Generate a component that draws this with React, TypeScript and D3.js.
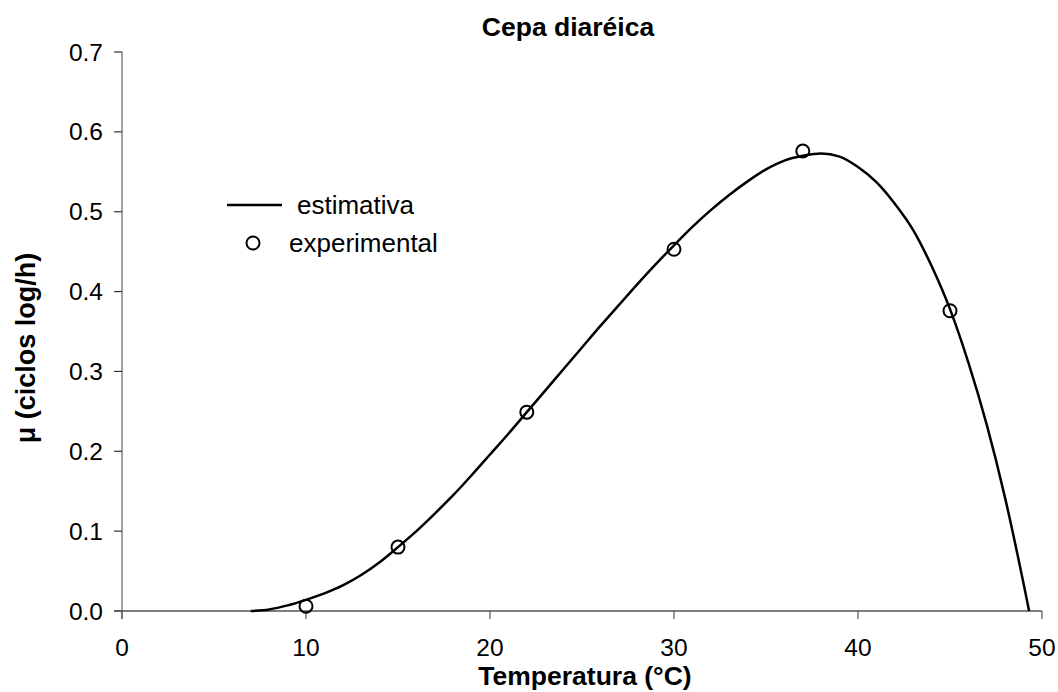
import React, { useEffect, useRef } from "react";
import * as d3 from "d3";

// estimated curve (°C, ciclos log/h)
const curveT = [7, 8, 9, 10, 11, 12, 13, 14, 15, 16, 17, 18, 19, 20, 21, 22, 23, 24, 25, 26, 27, 28, 29, 30, 31, 32, 33, 34, 35, 36, 37, 38, 39, 40, 41, 42, 43, 44, 45, 46, 47, 48, 49, 49.3];
const curveMu = [0, 0.002, 0.007, 0.014, 0.022, 0.032, 0.045, 0.061, 0.08, 0.1, 0.122, 0.145, 0.17, 0.196, 0.222, 0.249, 0.276, 0.303, 0.33, 0.357, 0.383, 0.409, 0.434, 0.458, 0.481, 0.502, 0.521, 0.538, 0.553, 0.564, 0.57, 0.573, 0.569, 0.556, 0.537, 0.51, 0.477, 0.432, 0.378, 0.311, 0.233, 0.141, 0.034, 0];

// experimental points
const expT = [10, 15, 22, 30, 37, 45];
const expMu = [0.006, 0.08, 0.249, 0.453, 0.576, 0.376];

const xTicks = [0, 10, 20, 30, 40, 50];
const yTicks = [0, 0.1, 0.2, 0.3, 0.4, 0.5, 0.6, 0.7];

const App = () => {
  const svgRef = useRef<SVGSVGElement>(null);

  useEffect(() => {
    const svg = d3.select(svgRef.current);
    svg.selectAll("*").remove();

    const font = "'Liberation Sans', Arial, sans-serif";
    const x = d3.scaleLinear().domain([0, 50]).range([122, 1042]);
    const y = d3.scaleLinear().domain([0, 0.7]).range([611, 52]);

    // y axis
    svg.append("line")
      .attr("x1", x(0)).attr("x2", x(0))
      .attr("y1", y(0.7)).attr("y2", y(0) + 8)
      .attr("stroke", "#808080").attr("stroke-width", 1.5);
    svg.append("g").selectAll("line").data(yTicks).join("line")
      .attr("x1", x(0) - 8).attr("x2", x(0))
      .attr("y1", (d) => y(d)).attr("y2", (d) => y(d))
      .attr("stroke", "#333").attr("stroke-width", 1.2);
    svg.append("g").selectAll("text").data(yTicks).join("text")
      .attr("x", 103).attr("y", (d) => y(d) + 8.5)
      .attr("text-anchor", "end")
      .attr("font-family", font).attr("font-size", 24.5)
      .text((d) => d3.format(".1f")(d));

    // x axis
    svg.append("line")
      .attr("x1", x(0) - 8).attr("x2", x(50))
      .attr("y1", y(0)).attr("y2", y(0))
      .attr("stroke", "#555").attr("stroke-width", 1.5);
    svg.append("g").selectAll("line").data(xTicks).join("line")
      .attr("x1", (d) => x(d)).attr("x2", (d) => x(d))
      .attr("y1", y(0)).attr("y2", y(0) + 8)
      .attr("stroke", "#555").attr("stroke-width", 1.2);
    svg.append("g").selectAll("text").data(xTicks).join("text")
      .attr("x", (d) => x(d)).attr("y", 656)
      .attr("text-anchor", "middle")
      .attr("font-family", font).attr("font-size", 24.5)
      .text((d) => d);

    // curve
    const line = d3.line<number>()
      .x((d) => x(d))
      .y((d, i) => y(curveMu[i]))
      .curve(d3.curveMonotoneX);
    svg.append("path")
      .attr("d", line(curveT))
      .attr("fill", "none")
      .attr("stroke", "#000")
      .attr("stroke-width", 2.5);

    // points
    svg.append("g").selectAll("circle").data(expT).join("circle")
      .attr("cx", (d) => x(d)).attr("cy", (d, i) => y(expMu[i]))
      .attr("r", 6.5)
      .attr("fill", "none").attr("stroke", "#000").attr("stroke-width", 2);

    // titles
    svg.append("text")
      .attr("x", 568).attr("y", 36)
      .attr("text-anchor", "middle")
      .attr("font-family", font).attr("font-size", 26.5).attr("font-weight", "bold")
      .text("Cepa diaréica");
    svg.append("text")
      .attr("x", 585).attr("y", 685)
      .attr("text-anchor", "middle")
      .attr("font-family", font).attr("font-size", 26.5).attr("font-weight", "bold")
      .text("Temperatura (°C)");
    svg.append("text")
      .attr("transform", "translate(35,348) rotate(-90)")
      .attr("text-anchor", "middle")
      .attr("font-family", font).attr("font-size", 27).attr("font-weight", "bold")
      .text("μ (ciclos log/h)");

    // legend
    svg.append("line")
      .attr("x1", 227).attr("x2", 282).attr("y1", 205).attr("y2", 205)
      .attr("stroke", "#000").attr("stroke-width", 2.5);
    svg.append("text")
      .attr("x", 297).attr("y", 214)
      .attr("font-family", font).attr("font-size", 26)
      .text("estimativa");
    svg.append("circle")
      .attr("cx", 253).attr("cy", 243).attr("r", 6.5)
      .attr("fill", "none").attr("stroke", "#000").attr("stroke-width", 2);
    svg.append("text")
      .attr("x", 289).attr("y", 252)
      .attr("font-family", font).attr("font-size", 26)
      .text("experimental");
  }, []);

  return (
    <svg
      ref={svgRef}
      width={1058}
      height={692}
      style={{ position: "absolute", left: 0, top: 0, background: "#fff" }}
    />
  );
};

export default App;
